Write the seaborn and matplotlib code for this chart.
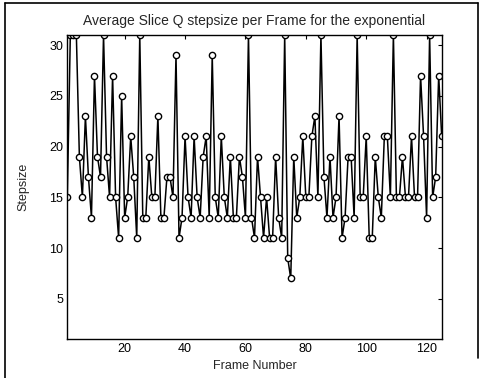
import matplotlib
matplotlib.use("Agg")
import matplotlib.pyplot as plt
from matplotlib.lines import Line2D
import seaborn as sns
import pandas as pd

frames = list(range(1, 126))
stepsize = [
    15, 31, 31, 31, 19, 15, 23, 17, 13, 27,
    19, 17, 31, 19, 15, 27, 15, 11, 25, 13,
    15, 21, 17, 11, 31, 13, 13, 19, 15, 15,
    23, 13, 13, 17, 17, 15, 29, 11, 13, 21,
    15, 13, 21, 15, 13, 19, 21, 13, 29, 15,
    13, 21, 15, 13, 19, 13, 13, 19, 17, 13,
    31, 13, 11, 19, 15, 11, 15, 11, 11, 19,
    13, 11, 31, 9, 7, 19, 13, 15, 21, 15,
    15, 21, 23, 15, 31, 17, 13, 19, 13, 15,
    23, 11, 13, 19, 19, 13, 31, 15, 15, 21,
    11, 11, 19, 15, 13, 21, 21, 15, 31, 15,
    15, 19, 15, 15, 21, 15, 15, 27, 21, 13,
    31, 15, 17, 27, 21,
]
xticks = [20, 40, 60, 80, 100, 120]
yticks = [5, 10, 15, 20, 25, 30]
title = "Average Slice Q stepsize per Frame for the exponential"

df = pd.DataFrame({"Frame": frames, "Stepsize": stepsize})

sns.set_style("white")
plt.rcParams["font.family"] = ["Liberation Sans", "DejaVu Sans"]

W, H = 483, 378
fig = plt.figure(figsize=(W / 100, H / 100), dpi=100)
ax = fig.add_axes([67.3 / W, 1 - 339.3 / H, (441.7 - 67.3) / W, (339.3 - 35) / H])

sns.lineplot(data=df, x="Frame", y="Stepsize", ax=ax, color="black",
             linewidth=1.1, marker="o", markersize=4.5,
             markerfacecolor="white", markeredgecolor="black",
             markeredgewidth=1.0)

ax.set_xlim(1, 125)
ax.set_ylim(1, 31)
ax.set_xticks(xticks)
ax.set_yticks(yticks)
ax.tick_params(direction="in", length=3, width=0.8, top=True, right=True,
               labelsize=9, colors="black", pad=3)
for s in ax.spines.values():
    s.set_color("black")
    s.set_linewidth(1.0)
ax.set_xlabel("Frame Number", fontsize=9, labelpad=3)
ax.set_ylabel("Stepsize", fontsize=9, labelpad=14)
ax.set_title(title, fontsize=10, pad=7)

# outer figure frame
fig.add_artist(Line2D([5 / W, 478 / W], [1 - 3 / H, 1 - 3 / H], color="black", lw=1.2))
fig.add_artist(Line2D([5 / W, 5 / W], [1 - 3 / H, 0], color="black", lw=1.2))
fig.add_artist(Line2D([478 / W, 478 / W], [1 - 3 / H, 1 - 358 / H], color="black", lw=1.2))

fig.savefig("out.png", dpi=100)
